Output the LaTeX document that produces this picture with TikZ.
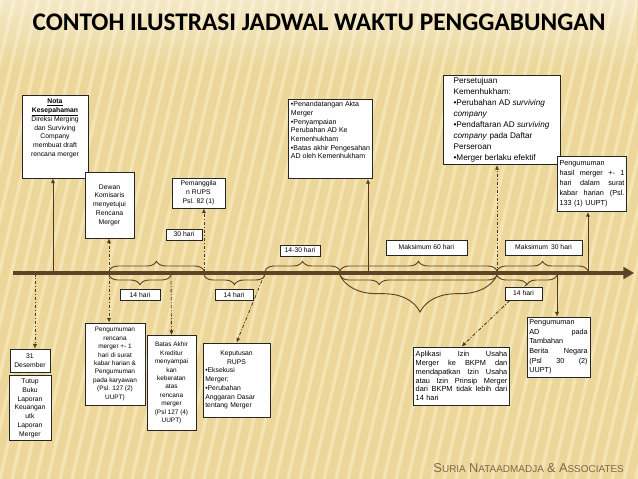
\documentclass[tikz,border=0pt]{standalone}
\usepackage{fontspec}
\setmainfont{Liberation Sans}
\newfontfamily\titlefont{Carlito}
\usepackage{tikz}
\usetikzlibrary{arrows.meta, positioning, decorations.pathreplacing, calc, fadings}

\definecolor{slidebg}{RGB}{236,214,154}
\definecolor{slidestripe}{RGB}{244,228,178}
\definecolor{timelinebrown}{RGB}{92,68,38}
\definecolor{linkbrown}{RGB}{78,58,30}
\definecolor{footerbrown}{RGB}{125,105,75}

\newcommand{\centline}[1]{\makebox[\hsize]{#1}}
\newcommand{\capword}[2]{{\fontsize{11}{12}\selectfont #1}{\fontsize{8.5}{10}\selectfont #2}}

\tikzset{
    infobox/.style={rectangle, draw=black!85, fill=white, line width=0.6pt, align=center, font=\fontsize{5.8}{7.5}\selectfont, inner sep=2pt},
    smallbox/.style={infobox, font=\fontsize{5.5}{7.2}\selectfont},
    harilabel/.style={infobox, minimum height=0.33cm, inner sep=1pt},
    solidarrow/.style={draw=linkbrown, line width=0.7pt, -{Latex[length=4pt,width=3.5pt]}},
    dasharrow/.style={solidarrow, dash pattern=on 3pt off 1.5pt on 0.8pt off 1.5pt},
    bracetop/.style={decorate, decoration={brace, amplitude=0.28cm}, draw=timelinebrown, line width=0.8pt},
    bracebottom/.style={decorate, decoration={brace, mirror, amplitude=0.28cm}, draw=timelinebrown, line width=0.8pt}
}

\begin{document}
\begin{tikzpicture}[x=0.03cm, y=-0.03cm]
    % background
    \fill[slidebg] (0,0) rectangle (638,479);
    \begin{scope}
        \clip (0,0) rectangle (638,479);
        \foreach \s in {-120,-108,...,640}
            \draw[slidestripe, line width=3pt] (\s,479) -- ++(110,-479);
        \fill[white, opacity=0.45, path fading=south] (0,0) rectangle (638,70);
    \end{scope}
    \useasboundingbox (0,0) rectangle (638,479);

    \node (title) at (319,22) {\titlefont\bfseries\fontsize{21.6}{25}\selectfont CONTOH ILUSTRASI JADWAL WAKTU PENGGABUNGAN};

    % points on the time line
    \coordinate (tstart) at (13,273);
    \coordinate (tend) at (634,273);
    \coordinate (tdes) at (35,273);
    \coordinate (tmou) at (53,273);
    \coordinate (tdewan) at (109,273);
    \coordinate (tbatas) at (171,273);
    \coordinate (trups) at (204,273);
    \coordinate (tputus) at (265,273);
    \coordinate (tumum) at (340,273);
    \coordinate (takta) at (368,273);
    \coordinate (tsetuju) at (497,273);
    \coordinate (ttambah) at (557,273);
    \coordinate (thasil) at (588,273);
    \coordinate (tipaplikasi) at (527,284);

    % boxes above the line
    \node (nota) [infobox, minimum width=1.98cm, minimum height=2.49cm] at (55,136.5) {\underline{\textbf{Nota}}\\ \underline{\textbf{Kesepahaman}}\\ Direksi Merging\\ dan Surviving\\ Company\\ membuat draft\\ rencana merger\\ \mbox{}\\ \mbox{}};
    \node (dewan) [infobox, minimum width=1.47cm, minimum height=1.98cm] at (109.5,205) {Dewan\\ Komisaris\\ menyetujui\\ Rencana\\ Merger};
    \node (panggil) [infobox, minimum width=1.59cm, minimum height=0.9cm] at (198.5,193) {Pemanggila\\ n RUPS\\ Psl. 82 (1)};
    \node (akta) [infobox, align=left, font=\fontsize{6}{7.4}\selectfont, minimum width=2.49cm, minimum height=2.34cm] at (330.5,139) {\textbullet Penandatangan Akta\\ Merger\\ \textbullet Penyampaian\\ Perubahan AD Ke\\ Kemenhukham\\ \textbullet Batas akhir Pengesahan\\ AD oleh Kemenhukham\\ \mbox{}\\ \mbox{}};
    \node (persetujuan) [infobox, align=left, font=\fontsize{7}{9.4}\selectfont, minimum width=3.51cm, minimum height=2.4cm] at (501.5,120) {Persetujuan\\ Kemenhukham:\\ \textbullet Perubahan AD \textit{surviving}\\ \textit{company}\\ \textbullet Pendaftaran AD \textit{surviving}\\ \textit{company} pada Daftar\\ Perseroan\\ \textbullet Merger berlaku efektif};
    \node (hasil) [infobox, align=left, font=\fontsize{6.2}{8.6}\selectfont, text width=1.95cm, minimum height=1.65cm] at (592,184) {Pengumuman\\ hasil\hfill merger\hfill +-\hfill 1\\ hari\hfill dalam\hfill surat\\ kabar\hfill harian\hfill (Psl.\\ 133 (1) UUPT)};

    % period labels
    \node (hari30) [harilabel, minimum width=1.08cm] at (184,234.5) {30 hari};
    \node (hari1430) [harilabel, minimum width=1.2cm] at (300,250.5) {14-30 hari};
    \node (maks60) [harilabel, minimum width=2.43cm, minimum height=0.45cm] at (426.5,247.5) {Maksimum 60 hari};
    \node (maks30) [harilabel, minimum width=2.31cm, minimum height=0.45cm] at (543.5,247.5) {Maksimum \,30 hari};
    \node (hari14a) [harilabel, minimum width=1.2cm] at (140,295) {14 hari};
    \node (hari14b) [harilabel, minimum width=1.14cm] at (234,295) {14 hari};

    % boxes below the line
    \node (des31) [infobox, minimum width=1.2cm, minimum height=0.69cm] at (30,360.5) {31\\ Desember};
    \node (tutup) [infobox, minimum width=1.26cm, minimum height=1.95cm, below=0.09cm of des31] {Tutup\\ Buku\\ Laporan\\ Keuangan\\ utk\\ Laporan\\ Merger};
    \node (umumrencana) [smallbox, minimum width=1.8cm, minimum height=2.46cm] at (115,364) {Pengumuman\\ rencana\\ merger +- 1\\ hari di surat\\ kabar harian \&\\ Pengumuman\\ pada karyawan\\ (Psl. 127 (2)\\ UUPT)};
    \node (batas) [smallbox, minimum width=1.47cm, minimum height=2.85cm] at (171.5,383) {Batas Akhir\\ Kreditur\\ menyampai\\ kan\\ keberatan\\ atas\\ rencana\\ merger\\ (Psl 127 (4)\\ UUPT)};
    \node (keputusan) [infobox, align=left, text width=1.87cm, minimum height=2.22cm] at (236.5,380) {\centline{Keputusan}\\ \centline{RUPS}\\ \textbullet Eksekusi\\ Merger;\\ \textbullet Perubahan\\ Anggaran Dasar\\ tentang Merger};
    \node (aplikasi) [infobox, align=left, font=\fontsize{6.3}{7.6}\selectfont, text width=2.75cm, minimum height=1.74cm] at (461.5,376) {Aplikasi\hfill Izin\hfill Usaha\\ Merger\hfill ke\hfill BKPM\hfill dan\\ mendapatkan\hfill Izin\hfill Usaha\\ atau\hfill Izin\hfill Prinsip\hfill Merger\\ dari\hfill BKPM\hfill tidak\hfill lebih\hfill dari\\ 14 hari};
    \node (tambahan) [infobox, align=left, font=\fontsize{6.2}{8.2}\selectfont, text width=1.75cm, minimum height=1.8cm] at (558.5,347) {Pengumuman\\ AD\hfill pada\\ Tambahan\\ Berita\hfill Negara\\ (Psl\hfill 30\hfill (2)\\ UUPT)};

    \node (footer) [anchor=east, text=footerbrown] at (628,468) {\capword{S}{URIA} \capword{N}{ATAADMADJA} \capword{\&}{} \capword{A}{SSOCIATES}};

    % connectors
    \draw [dasharrow] (tdes) -- (tdes |- des31.north);
    \draw [solidarrow] (tmou) -- (tmou |- nota.south);
    \draw [dasharrow] (tdewan) -- (tdewan |- dewan.south);
    \draw [dasharrow] (tdewan) -- (tdewan |- umumrencana.north);
    \draw [dasharrow] (tbatas) -- (batas.north);
    \draw [dasharrow] (trups) -- (trups |- panggil.south);
    \draw [dasharrow] (tputus) -- (keputusan.north);
    \draw [solidarrow] (takta) -- (takta |- akta.south);
    \draw [dasharrow] (tsetuju) -- (tsetuju |- persetujuan.south);
    \draw [solidarrow] (thasil) -- (thasil |- hasil.south);
    \draw [solidarrow] (ttambah) -- (ttambah |- tambahan.north);
    \draw [dasharrow] (tipaplikasi) -- (aplikasi.north);

    % time line
    \draw [timelinebrown, line width=3.4pt, -{Triangle[length=9pt,width=10pt]}] (tstart) -- (tend);

    % braces
    \draw [bracetop] ([yshift=2pt]tdewan) -- ([yshift=2pt]trups);
    \draw [bracetop] ([yshift=2pt]tputus) -- ([yshift=2pt]tumum);
    \draw [bracetop] ([yshift=2pt]tumum) -- ([yshift=2pt]tsetuju);
    \draw [bracetop] ([yshift=2pt]tsetuju) -- ([yshift=2pt]thasil);
    \draw [bracebottom] ([yshift=-2pt]tdewan) -- ([yshift=-2pt]tbatas);
    \draw [bracebottom] ([yshift=-2pt]trups) -- ([yshift=-2pt]tputus);
    \draw [bracebottom, decoration={aspect=0.25}] ([yshift=-2pt]tumum) -- ([yshift=-2pt]tsetuju);
    \draw [bracebottom, decoration={amplitude=1.1cm, aspect=0.51}] ([yshift=-2pt]tumum) -- ([yshift=-2pt]tsetuju);
    \draw [bracebottom] ([yshift=-2pt]tsetuju) -- ([yshift=-2pt]ttambah);

    \node (hari14c) [harilabel, minimum width=1.11cm, minimum height=0.39cm] at (523.5,293.5) {14 hari};
\end{tikzpicture}
\end{document}
